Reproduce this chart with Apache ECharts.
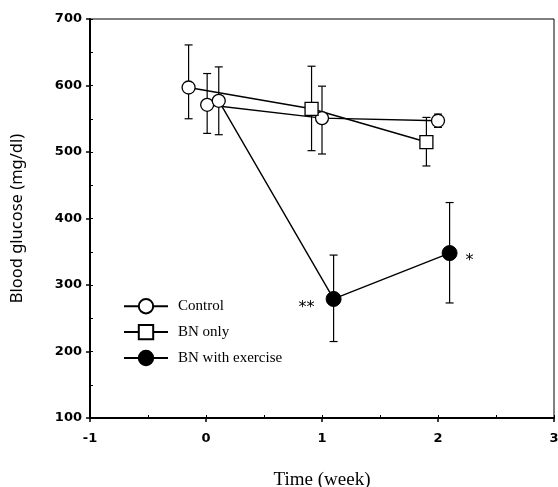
<!DOCTYPE html>
<html>
<head>
<meta charset="utf-8">
<script src="https://cdn.jsdelivr.net/npm/echarts@6/dist/echarts.min.js"></script>
<style>
  html, body { margin: 0; padding: 0; background: #fff; }
  #chart { width: 558px; height: 487px; }
</style>
</head>
<body>
<div id="chart"></div>
<script>
// Blood glucose (mg/dl) vs time (week), mean with error bars
// the first point of each group (week 0) is drawn as an open circle
var ctrlWeek = [0.01, 1.0, 2.0];
var ctrlMean = [571, 551, 547];
var ctrlLow  = [528, 497, 537];
var ctrlHigh = [618, 599, 557];

var bnWeek = [-0.15, 0.91, 1.9];
var bnMean = [597, 565, 515];
var bnLow  = [550, 502, 479];
var bnHigh = [661, 629, 552];

var exWeek = [0.11, 1.1, 2.1];
var exMean = [577, 279, 348];
var exLow  = [526, 215, 273];
var exHigh = [628, 345, 424];
var exMarks = ['', '**', '*'];

var xTicks = [-1, 0, 1, 2, 3];
var yTicks = [100, 200, 300, 400, 500, 600, 700];

var myChart = echarts.init(document.getElementById('chart'));

var serif = 'Liberation Serif';
var sans = 'DejaVu Sans';

function points(week, mean, marks) {
    return week.map(function (w, i) {
        var item = { value: [w, mean[i]] };
        if (i === 0) {
            item.symbol = 'circle';
            item.symbolSize = 13;
            item.itemStyle = { color: '#fff', borderColor: '#000', borderWidth: 1.3 };
        }
        if (marks && marks[i]) {
            item.label = {
                show: true,
                formatter: marks[i],
                position: i === 1 ? 'left' : 'right',
                offset: i === 1 ? [-6, 9] : [3, 8],
                color: '#000',
                fontFamily: sans,
                fontSize: 16
            };
        }
        return item;
    });
}

function bars(week, low, high) {
    return week.map(function (w, i) { return [w, low[i], high[i]]; });
}

function errorSeries(name, data) {
    return {
        name: name + ' err',
        type: 'custom',
        z: 1,
        silent: true,
        data: data,
        renderItem: function (params, api) {
            var x = api.value(0);
            var top = api.coord([x, api.value(2)]);
            var bot = api.coord([x, api.value(1)]);
            var w = 4;
            var style = { stroke: '#000', lineWidth: 1.2 };
            return {
                type: 'group',
                children: [
                    { type: 'line', shape: { x1: top[0], y1: top[1], x2: bot[0], y2: bot[1] }, style: style },
                    { type: 'line', shape: { x1: top[0] - w, y1: top[1], x2: top[0] + w, y2: top[1] }, style: style },
                    { type: 'line', shape: { x1: bot[0] - w, y1: bot[1], x2: bot[0] + w, y2: bot[1] }, style: style }
                ]
            };
        }
    };
}

var lineStyle = { color: '#000', width: 1.4 };

option = {
    backgroundColor: '#fff',
    animation: false,
    grid: {
        left: 90, top: 19, right: 4, bottom: 69,
        outerBoundsMode: 'none',
        show: true, borderColor: '#000', borderWidth: 1
    },
    legend: {
        orient: 'vertical',
        left: 123,
        top: 298,
        padding: 0,
        itemWidth: 44,
        itemHeight: 18,
        itemGap: 9.5,
        data: ['Control', 'BN only', 'BN with exercise'],
        textStyle: { fontFamily: serif, fontSize: 15, color: '#000', padding: [0, 0, 0, 5] }
    },
    xAxis: [{
        type: 'value',
        min: -1, max: 3, interval: 1,
        name: 'Time (week)',
        nameLocation: 'middle',
        nameGap: 53,
        nameTextStyle: { fontFamily: serif, fontSize: 19, color: '#000' },
        axisLine: { onZero: false, lineStyle: { color: '#000', width: 2 } },
        axisTick: { length: 4, lineStyle: { color: '#000', width: 1.5 } },
        axisLabel: {
            margin: 14, color: '#000', fontFamily: sans, fontWeight: 'bold', fontSize: 13,
            formatter: function (v) { return xTicks.indexOf(v) >= 0 ? String(v) : ''; }
        },
        splitLine: { show: false }
    }, {
        type: 'value',
        min: -1, max: 3, interval: 0.5,
        position: 'bottom',
        axisLine: { show: false, onZero: false },
        axisTick: { inside: true, length: 3, lineStyle: { color: '#000', width: 1 } },
        axisLabel: { show: false },
        splitLine: { show: false }
    }],
    yAxis: [{
        type: 'value',
        min: 100, max: 700, interval: 100,
        name: 'Blood glucose (mg/dl)',
        nameLocation: 'middle',
        nameGap: 64,
        nameTextStyle: { fontFamily: 'Noto Sans', fontSize: 16.5, color: '#000' },
        axisLine: { onZero: false, lineStyle: { color: '#000', width: 2 } },
        axisTick: { length: 4, lineStyle: { color: '#000', width: 1.5 } },
        axisLabel: {
            margin: 8, color: '#000', fontFamily: sans, fontWeight: 'bold', fontSize: 13,
            formatter: function (v) { return yTicks.indexOf(v) >= 0 ? String(v) : ''; }
        },
        splitLine: { show: false }
    }, {
        type: 'value',
        min: 100, max: 700, interval: 50,
        position: 'left',
        axisLine: { show: false, onZero: false },
        axisTick: { inside: true, length: 3, lineStyle: { color: '#000', width: 1 } },
        axisLabel: { show: false },
        splitLine: { show: false }
    }],
    series: [
        errorSeries('Control', bars(ctrlWeek, ctrlLow, ctrlHigh)),
        errorSeries('BN only', bars(bnWeek, bnLow, bnHigh)),
        errorSeries('BN with exercise', bars(exWeek, exLow, exHigh)),
        {
            name: 'Control',
            type: 'line',
            z: 3,
            symbol: 'circle',
            symbolSize: 13,
            itemStyle: { color: '#fff', borderColor: '#000', borderWidth: 1.3 },
            lineStyle: lineStyle,
            data: points(ctrlWeek, ctrlMean)
        },
        {
            name: 'BN only',
            type: 'line',
            z: 3,
            symbol: 'rect',
            symbolSize: 13,
            itemStyle: { color: '#fff', borderColor: '#000', borderWidth: 1.3 },
            lineStyle: lineStyle,
            data: points(bnWeek, bnMean)
        },
        {
            name: 'BN with exercise',
            type: 'line',
            z: 3,
            symbol: 'circle',
            symbolSize: 15,
            itemStyle: { color: '#000', borderColor: '#000', borderWidth: 1 },
            lineStyle: lineStyle,
            data: points(exWeek, exMean, exMarks)
        }
    ]
};

myChart.setOption(option);
</script>
</body>
</html>
